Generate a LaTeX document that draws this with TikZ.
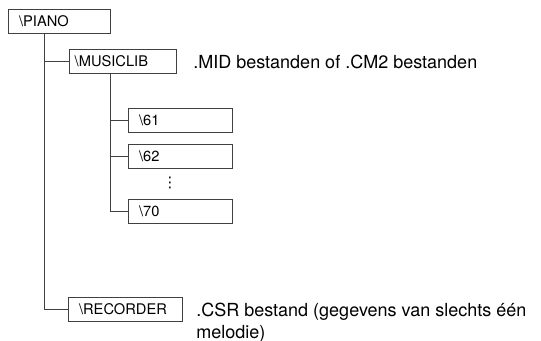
\documentclass[tikz,border=0pt]{standalone}
\usepackage{fontspec}
\setmainfont{TeX Gyre Heros}
\newfontfamily\symfont{DejaVu Sans}
\begin{document}
\begin{tikzpicture}[
  x=0.75pt, y=-0.75pt,
  folder/.style={draw=black!75, line width=0.6pt, anchor=west, minimum height=18pt, inner xsep=8pt, inner ysep=2pt, text width=#1, align=left, font=\fontsize{11}{13}\selectfont},
  folder/.default=60pt,
  note/.style={anchor=west, align=left, inner sep=0pt, font=\fontsize{13.5}{16}\selectfont},
  branch/.style={draw=black!75, line width=0.6pt}
]
  \useasboundingbox (0,0) rectangle (541,340);

  \node[folder=60.5pt] (piano) at (8,21.5) {\textbackslash PIANO};
  \node[folder=72pt, inner xsep=4pt] (musiclib) at (69,61.5) {\textbackslash MUSICLIB};
  \node[folder=62pt] (d61) at (128,120.5) {\textbackslash 61};
  \node[folder=62pt] (d62) at (128,156) {\textbackslash 62};
  \node[font=\symfont\fontsize{11}{12}\selectfont, inner sep=0pt] (dots) at (170,183) {⋮};
  \node[folder=62pt] (d70) at (128,211) {\textbackslash 70};
  \node[folder=69.5pt] (recorder) at (68,309) {\textbackslash RECORDER};

  \node[note] (midnote) at (193,61.5) {.MID bestanden of .CM2 bestanden};
  \node[note, anchor=north west] (csrnote) at (196,303) {.CSR bestand (gegevens van slechts één\\melodie)};

  \coordinate (pianotrunk) at ([xshift=27pt]piano.south west);
  \coordinate (libtrunk) at ([xshift=30.75pt]musiclib.south west);

  \draw[branch] (pianotrunk) |- (musiclib.west);
  \draw[branch] (pianotrunk) |- (recorder.west);
  \foreach \sub in {d61,d62,d70}
    \draw[branch] (libtrunk) |- (\sub.west);
\end{tikzpicture}
\end{document}
